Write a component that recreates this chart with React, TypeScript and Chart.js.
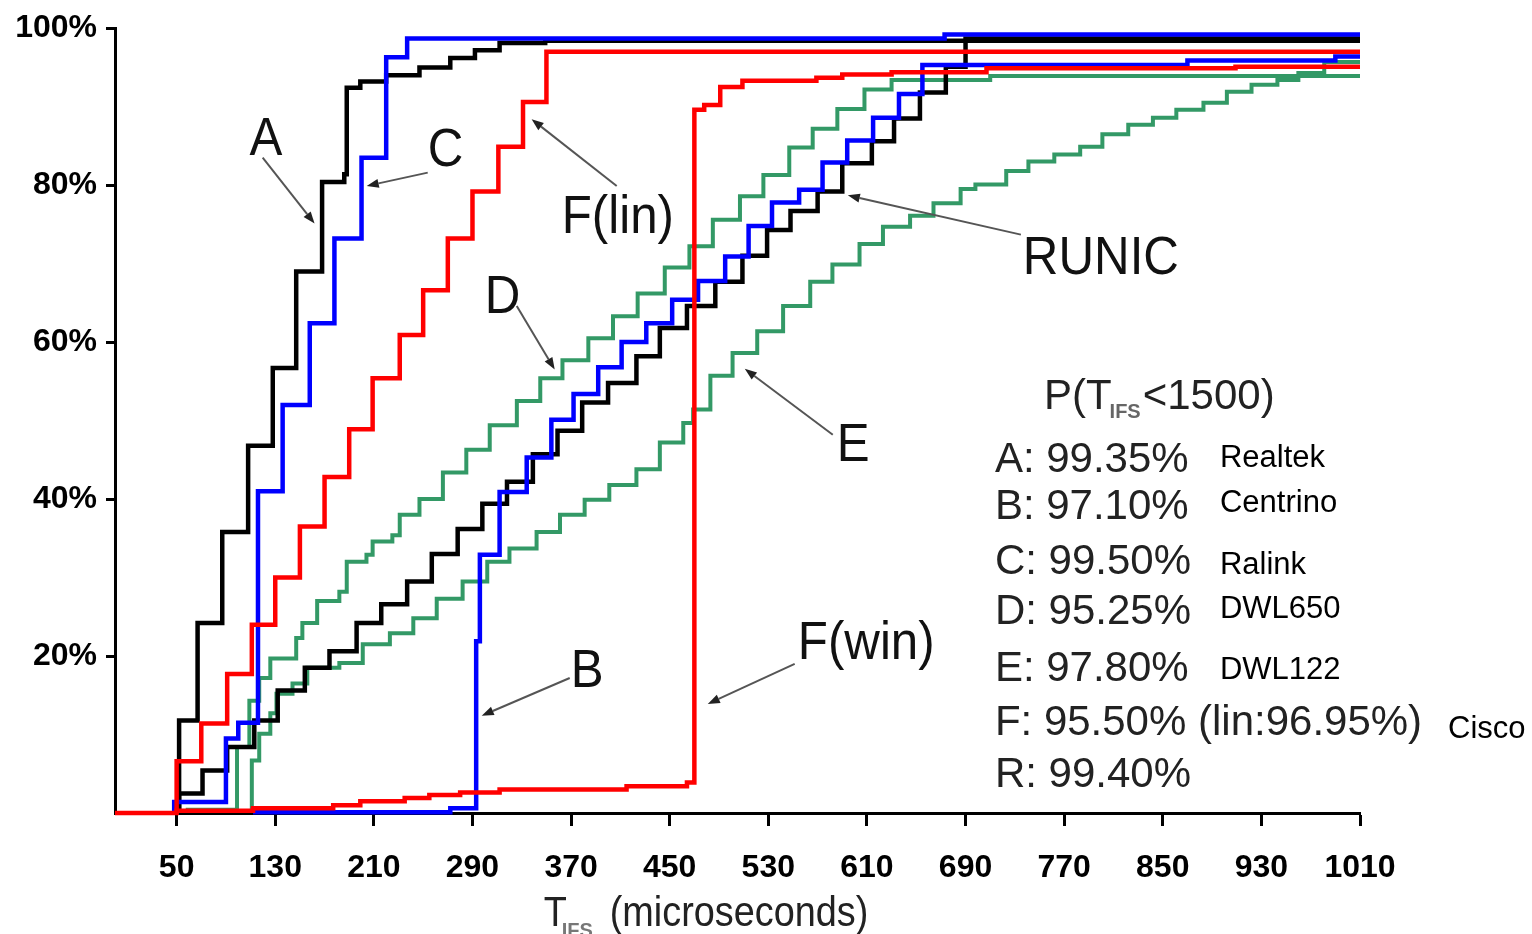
import React, { useEffect, useRef } from 'react';
import { Chart, registerables } from 'chart.js';

Chart.register(...registerables);

const FONT = '"Liberation Sans", Arial, Helvetica, sans-serif';

// ---------- axis ticks ----------
const X_TICKS = [50, 130, 210, 290, 370, 450, 530, 610, 690, 770, 850, 930, 1010];
const Y_TICKS = [20, 40, 60, 80, 100];

// ---------- series (x = T_IFS in microseconds, y = cumulative %) ----------
// A - Realtek
const A_X = [52, 52, 67, 87, 108, 128, 147, 168, 186, 188, 199, 220, 247, 272, 292, 312, 349, 1010];
const A_Y = [0, 11.8, 24.2, 35.8, 46.8, 56.7, 69.0, 80.4, 81.4, 92.4, 93.2, 94.0, 95.0, 96.2, 97.2, 98.1, 98.4, 98.4];

// C - Ralink
const C_X = [48, 48, 90, 100, 116, 136, 158, 178, 200, 220, 237, 673, 1010];
const C_Y = [0, 1.4, 9.5, 11.5, 41.0, 52.0, 62.4, 73.2, 83.5, 96.3, 98.7, 99.2, 99.2];

// F(lin) - Cisco linux
const FL_X = [50, 50, 70, 91, 111, 130, 150, 170, 190, 209, 231, 250, 270, 290, 311, 331, 350, 1010];
const FL_Y = [0, 6.6, 11.4, 17.7, 24.0, 30.0, 36.5, 42.8, 48.9, 55.4, 60.9, 66.6, 73.2, 79.2, 84.9, 90.6, 97.0, 97.0];

// F(win) - Cisco windows
const FW_X = [0, 50, 112, 177, 199, 235, 255, 280, 312, 415, 464, 470, 478, 491, 509, 569, 590, 630, 707, 909, 1010];
const FW_Y = [0, 0.3, 0.6, 1.0, 1.5, 1.9, 2.3, 2.6, 3.0, 3.4, 3.9, 89.6, 90.2, 92.5, 93.3, 93.7, 94.1, 94.4, 94.9, 95.1, 95.1];

// B - Centrino
const B_X = [112, 272, 293, 296, 312, 334, 354, 372, 392, 411, 431, 452, 473, 495, 514, 533, 555, 574, 594, 615, 636, 655, 870, 990, 1010];
const B_Y = [0.1, 0.6, 21.9, 32.9, 40.9, 45.3, 50.1, 53.4, 56.8, 60.0, 62.4, 65.4, 67.8, 70.9, 74.8, 77.8, 79.4, 82.9, 85.7, 88.6, 91.6, 95.3, 95.9, 96.4, 96.4];

// RUNIC
const R_X = [52, 52, 71, 91, 113, 132, 154, 174, 196, 216, 237, 257, 278, 298, 318, 339, 359, 379, 400, 423, 442, 464, 487, 509, 529, 548, 570, 590, 614, 632, 653, 674, 690, 1010];
const R_Y = [0, 2.5, 5.4, 8.4, 11.8, 15.6, 18.5, 20.6, 24.2, 26.6, 29.5, 33.0, 36.2, 39.4, 42.2, 45.7, 48.7, 52.3, 54.8, 58.2, 61.8, 64.6, 67.7, 71.0, 74.3, 76.7, 79.2, 82.8, 85.6, 88.5, 91.8, 95.1, 98.7, 98.7];

// D - DWL650
const D_X = [59, 59, 99, 109, 117, 126, 147, 152, 164, 182, 188, 204, 209, 225, 231, 247, 266, 285, 304, 326, 345, 363, 384, 404, 424, 446, 466, 485, 507, 526, 547, 566, 586, 608, 630, 710, 1010];
const D_Y = [0, 0.4, 8.4, 14.3, 17.2, 19.7, 22.3, 24.2, 27.0, 28.2, 32.0, 32.9, 34.6, 35.4, 38.0, 40.0, 43.4, 46.3, 49.4, 52.5, 55.4, 57.7, 60.5, 63.3, 66.2, 69.5, 72.2, 75.6, 78.6, 81.3, 84.8, 87.2, 89.7, 92.2, 93.4, 93.9, 93.9];

// E - DWL122
const E_X = [111, 111, 117, 126, 131, 144, 156, 182, 201, 223, 242, 261, 282, 302, 320, 342, 361, 381, 401, 423, 442, 461, 469, 483, 501, 521, 542, 564, 582, 604, 623, 645, 664, 686, 698, 723, 741, 762, 783, 801, 822, 842, 861, 883, 902, 922, 943, 960, 981, 1010];
const E_Y = [0, 6.7, 10.1, 12.7, 15.2, 16.5, 18.5, 19.1, 21.5, 22.9, 24.8, 27.3, 29.5, 32.0, 33.7, 35.8, 38.0, 39.9, 41.8, 43.8, 47.2, 49.7, 51.4, 55.7, 58.6, 61.4, 64.6, 67.7, 69.9, 72.5, 74.7, 76.1, 77.7, 79.5, 80.1, 81.8, 83.0, 83.9, 84.9, 86.5, 87.7, 88.6, 89.6, 90.5, 91.9, 92.8, 93.4, 94.3, 95.7, 95.7];

// ---------- texts ----------
const LEGEND_TITLE = ['P(T', 'IFS', '<1500)'];
const LEGEND_ROWS = ['A: 99.35%', 'B: 97.10%', 'C: 99.50%', 'D: 95.25%', 'E: 97.80%', 'F: 95.50% (lin:96.95%)', 'R: 99.40%'];
const DEVICE_NAMES = ['Realtek', 'Centrino', 'Ralink', 'DWL650', 'DWL122', 'Cisco'];
const X_TITLE = ['T', 'IFS', '(microseconds)'];

// ---------- series styling (drawing order: first = on top) ----------
const SERIES = [
  { label: 'F(win)', xs: FW_X, ys: FW_Y, color: '#ff0000', width: 4.5 },
  { label: 'F(lin)', xs: FL_X, ys: FL_Y, color: '#ff0000', width: 4.5 },
  { label: 'C', xs: C_X, ys: C_Y, color: '#0000ff', width: 4.5 },
  { label: 'A', xs: A_X, ys: A_Y, color: '#000000', width: 4.5 },
  { label: 'B', xs: B_X, ys: B_Y, color: '#0000ff', width: 4.5 },
  { label: 'RUNIC', xs: R_X, ys: R_Y, color: '#000000', width: 4.5 },
  { label: 'D', xs: D_X, ys: D_Y, color: '#339966', width: 4 },
  { label: 'E', xs: E_X, ys: E_Y, color: '#339966', width: 4 },
];

// annotation placement in data coordinates
const CURVE_LABELS = [
  { text: 'A', x: 109.2, y: 83.9 },
  { text: 'C', x: 253.7, y: 82.4 },
  { text: 'F(lin)', x: 362.4, y: 73.9 },
  { text: 'D', x: 299.9, y: 63.7 },
  { text: 'RUNIC', x: 736.5, y: 68.7 },
  { text: 'B', x: 369.7, y: 16.1 },
  { text: 'F(win)', x: 553.9, y: 19.6 },
  { text: 'E', x: 585.5, y: 44.8 },
];
const ARROWS = [
  { x1: 119.8, y1: 83.5, x2: 161.9, y2: 75.1 },
  { x1: 253.7, y1: 81.6, x2: 204.2, y2: 79.9 },
  { x1: 407.0, y1: 79.9, x2: 338.0, y2: 88.4 },
  { x1: 325.9, y1: 64.6, x2: 356.7, y2: 56.5 },
  { x1: 734.9, y1: 73.7, x2: 594.5, y2: 78.7 },
  { x1: 368.9, y1: 17.2, x2: 297.5, y2: 12.4 },
  { x1: 551.4, y1: 19.0, x2: 480.9, y2: 13.9 },
  { x1: 582.3, y1: 48.2, x2: 510.9, y2: 56.6 },
];
const LEGEND_POS = {
  titleX: 753.6, titleY: 51.5,
  rowX: 713.8, rowY: [43.5, 37.5, 30.5, 24.1, 16.8, 9.9, 3.3],
  devX: [896.4, 896.4, 896.4, 896.4, 896.4, 1081.4], devY: [44.1, 38.4, 30.5, 24.8, 17.1, 9.6],
};
const X_TITLE_POS = { x: 347.8 };

function drawArrow(ctx: CanvasRenderingContext2D, x1: number, y1: number, x2: number, y2: number) {
  const ang = Math.atan2(y2 - y1, x2 - x1);
  const len = 12;
  const hw = 4.5;
  const bx = x2 - len * Math.cos(ang);
  const by = y2 - len * Math.sin(ang);
  ctx.strokeStyle = '#555';
  ctx.lineWidth = 2;
  ctx.beginPath();
  ctx.moveTo(x1, y1);
  ctx.lineTo(bx, by);
  ctx.stroke();
  ctx.fillStyle = '#222';
  ctx.beginPath();
  ctx.moveTo(x2, y2);
  ctx.lineTo(bx + hw * Math.sin(ang), by - hw * Math.cos(ang));
  ctx.lineTo(bx - hw * Math.sin(ang), by + hw * Math.cos(ang));
  ctx.closePath();
  ctx.fill();
}

function scaledText(ctx: CanvasRenderingContext2D, text: string, x: number, y: number, sx: number) {
  ctx.save();
  ctx.translate(x, y);
  ctx.scale(sx, 1);
  ctx.fillText(text, 0, 0);
  ctx.restore();
}

const annotationPlugin = {
  id: 'annotations',
  afterDatasetsDraw(chart: any) {
    const { ctx, chartArea } = chart;
    const xs = chart.scales.x;
    const ys = chart.scales.y;
    const px = (v: number) => xs.getPixelForValue(v);
    const py = (v: number) => ys.getPixelForValue(v);
    ctx.save();
    ctx.textAlign = 'left';
    ctx.textBaseline = 'alphabetic';

    for (const a of ARROWS) drawArrow(ctx, px(a.x1), py(a.y1), px(a.x2), py(a.y2));

    ctx.fillStyle = '#111';
    ctx.font = `53px ${FONT}`;
    for (const l of CURVE_LABELS) scaledText(ctx, l.text, px(l.x), py(l.y), 0.93);

    // legend block
    ctx.fillStyle = '#222';
    ctx.font = `42px ${FONT}`;
    let tx = px(LEGEND_POS.titleX);
    const ty = py(LEGEND_POS.titleY);
    ctx.fillText(LEGEND_TITLE[0], tx, ty);
    tx += ctx.measureText(LEGEND_TITLE[0]).width - 2;
    ctx.font = `bold 20px ${FONT}`;
    ctx.fillStyle = '#666';
    ctx.fillText(LEGEND_TITLE[1], tx, ty + 9);
    tx += ctx.measureText(LEGEND_TITLE[1]).width + 2;
    ctx.font = `42px ${FONT}`;
    ctx.fillStyle = '#222';
    ctx.fillText(LEGEND_TITLE[2], tx, ty);

    LEGEND_ROWS.forEach((t, i) => ctx.fillText(t, px(LEGEND_POS.rowX), py(LEGEND_POS.rowY[i])));

    ctx.fillStyle = '#000';
    ctx.font = `31px ${FONT}`;
    DEVICE_NAMES.forEach((t, i) => ctx.fillText(t, px(LEGEND_POS.devX[i]), py(LEGEND_POS.devY[i])));

    // x axis title with subscript
    const bx = px(X_TITLE_POS.x);
    const by = chartArea.bottom + 113;
    ctx.fillStyle = '#222';
    ctx.font = `43px ${FONT}`;
    scaledText(ctx, X_TITLE[0], bx, by, 0.88);
    ctx.fillStyle = '#777';
    ctx.font = `bold 20px ${FONT}`;
    ctx.fillText(X_TITLE[1], bx + 18, by + 11);
    ctx.fillStyle = '#222';
    ctx.font = `43px ${FONT}`;
    scaledText(ctx, X_TITLE[2], bx + 66, by, 0.88);
    ctx.restore();
  },
};

export default function App() {
  const ref = useRef<HTMLCanvasElement | null>(null);
  useEffect(() => {
    if (!ref.current) return;
    const chart = new Chart(ref.current, {
      type: 'line',
      data: {
        datasets: SERIES.map((s) => ({
          label: s.label,
          data: s.xs.map((x, i) => ({ x, y: s.ys[i] })),
          borderColor: s.color,
          backgroundColor: s.color,
          borderWidth: s.width,
          pointRadius: 0,
          pointHoverRadius: 0,
          stepped: 'before',
          fill: false,
          tension: 0,
          clip: 8,
          borderJoinStyle: 'miter',
          borderCapStyle: 'butt',
        })),
      },
      options: {
        animation: false,
        responsive: false,
        maintainAspectRatio: false,
        events: [],
        layout: { padding: { left: 0, right: 172, top: 23, bottom: 0 } },
        plugins: { legend: { display: false }, tooltip: { enabled: false }, title: { display: false } },
        scales: {
          x: {
            type: 'linear',
            min: 0,
            max: 1010,
            afterBuildTicks: (s: any) => {
              s.ticks = X_TICKS.map((v) => ({ value: v }));
            },
            afterFit: (s: any) => {
              s.height = 121;
            },
            ticks: {
              autoSkip: false,
              maxRotation: 0,
              padding: 23,
              color: '#000',
              font: { family: FONT, size: 32, weight: 'bold' },
              callback: (v: any) => String(v),
            },
            grid: { display: true, drawOnChartArea: false, drawTicks: true, tickLength: 13, tickWidth: 3, tickColor: '#000' },
            border: { display: true, color: '#000', width: 3 },
          },
          y: {
            type: 'linear',
            min: 0,
            max: 100,
            afterBuildTicks: (s: any) => {
              s.ticks = Y_TICKS.map((v) => ({ value: v }));
            },
            afterFit: (s: any) => {
              s.width = 115;
            },
            ticks: {
              padding: 9,
              color: '#000',
              font: { family: FONT, size: 32, weight: 'bold' },
              callback: (v: any) => v + '%',
            },
            grid: { display: true, drawOnChartArea: false, drawTicks: true, tickLength: 9, tickWidth: 3, tickColor: '#000' },
            border: { display: true, color: '#000', width: 3 },
          },
        },
      } as any,
      plugins: [annotationPlugin],
    });
    return () => chart.destroy();
  }, []);
  return (
    <div style={{ position: 'absolute', left: 0, top: 0, width: 1532, height: 934, background: '#fff' }}>
      <canvas ref={ref} width={1532} height={934} />
    </div>
  );
}
